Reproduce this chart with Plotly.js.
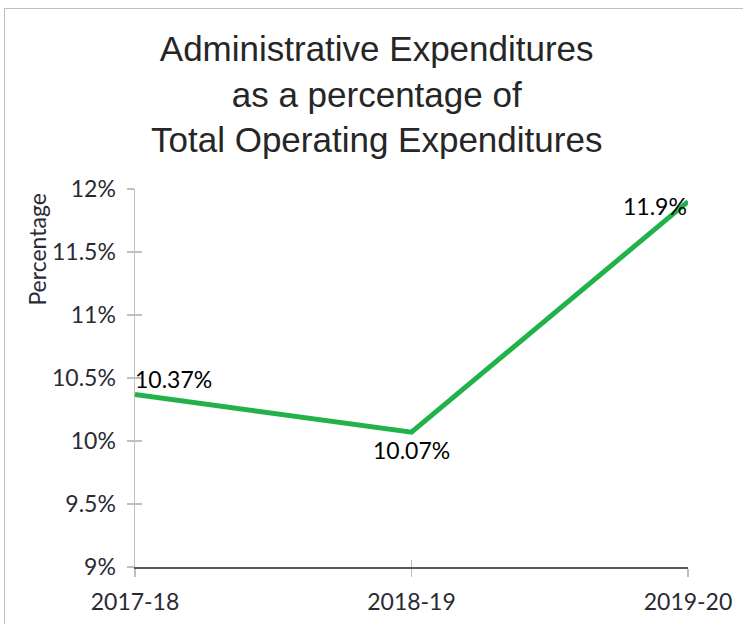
<!DOCTYPE html>
<html>
<head>
<meta charset="utf-8">
<script src="https://cdn.plot.ly/plotly-3.0.1.min.js"></script>
<style>
  html, body { margin: 0; padding: 0; background: #fff; overflow: hidden; }
  #chart { width: 743px; height: 624px; position: absolute; left: 0; top: 0; }
  #frame { position: absolute; left: 4px; top: 8px; width: 800px; height: 700px;
           border: 1px solid #bfbfbf; pointer-events: none; }
</style>
</head>
<body>
<div id="chart"></div>
<div id="frame"></div>
<script>
const years = ['2017-18', '2018-19', '2019-20'];
const adminPct = [10.37, 10.07, 11.9];
const labels = ['10.37%', '10.07%', '11.9%'];
const titleText = 'Administrative Expenditures<br>as a percentage of<br>Total Operating Expenditures';
const yTitle = 'Percentage';

const tickFont = { family: 'Lato, sans-serif', size: 23, color: '#2a2a35' };
const labelFont = { family: 'Lato, sans-serif', size: 23, color: '#000000' };

// label placement (style only): anchor and pixel offsets per point
const labelAnchor = [
  { xanchor: 'left', xshift: -2, yshift: 15 },
  { xanchor: 'center', xshift: 0, yshift: -18 },
  { xanchor: 'right', xshift: 1, yshift: -4 }
];

const main = {
  x: years, y: adminPct, type: 'scatter', mode: 'lines',
  line: { color: '#22B24C', width: 5 },
  cliponaxis: false, hoverinfo: 'skip', showlegend: false
};
const ghost = {
  x: years, y: adminPct, type: 'scatter', mode: 'lines',
  line: { color: 'rgba(0,0,0,0)', width: 0 },
  xaxis: 'x2', yaxis: 'y2', hoverinfo: 'skip', showlegend: false
};

const dataLabels = years.map((yr, i) => Object.assign({
  x: yr, y: adminPct[i], xref: 'x', yref: 'y', text: labels[i],
  showarrow: false, yanchor: 'middle', font: labelFont
}, labelAnchor[i]));

const layout = {
  width: 743, height: 624,
  paper_bgcolor: '#ffffff', plot_bgcolor: '#ffffff',
  margin: { l: 135, r: 55, t: 189, b: 57 },
  title: {
    text: titleText, x: 0.507, xref: 'container', xanchor: 'center',
    y: 0.902, yref: 'container', yanchor: 'top',
    font: { family: 'Liberation Sans, Arial, sans-serif', size: 35, color: '#262626' }
  },
  xaxis: {
    type: 'category', range: [0, 2], showgrid: false, zeroline: false,
    showline: true, linecolor: '#595959', linewidth: 1.5,
    ticks: 'outside', ticklen: 8, tickcolor: '#bfbfbf', tickwidth: 1.5,
    tickfont: tickFont, ticklabelstandoff: 6
  },
  yaxis: {
    range: [9, 12], dtick: 0.5, tick0: 9, ticksuffix: '%',
    showgrid: false, zeroline: false,
    showline: true, linecolor: '#bfbfbf', linewidth: 1.5,
    ticks: 'outside', ticklen: 7, tickcolor: '#bfbfbf', tickwidth: 1.5,
    tickfont: tickFont, ticklabelstandoff: 6
  },
  xaxis2: {
    type: 'category', range: [0, 2], overlaying: 'x', side: 'bottom',
    showgrid: false, zeroline: false, showline: false, showticklabels: false,
    ticks: 'inside', ticklen: 7, tickcolor: '#bfbfbf', tickwidth: 1.5
  },
  yaxis2: {
    range: [9, 12], dtick: 0.5, tick0: 9, overlaying: 'y', side: 'left',
    showgrid: false, zeroline: false, showline: false, showticklabels: false,
    ticks: 'inside', ticklen: 7, tickcolor: '#bfbfbf', tickwidth: 1.5
  },
  annotations: [{
    text: yTitle, textangle: -90, showarrow: false,
    xref: 'paper', yref: 'paper', x: -0.177, y: 0.84,
    xanchor: 'center', yanchor: 'middle',
    font: { family: 'Lato, sans-serif', size: 23, color: '#2a2a35' }
  }].concat(dataLabels)
};

Plotly.newPlot('chart', [main, ghost], layout, { displayModeBar: false, staticPlot: true });
</script>
</body>
</html>
